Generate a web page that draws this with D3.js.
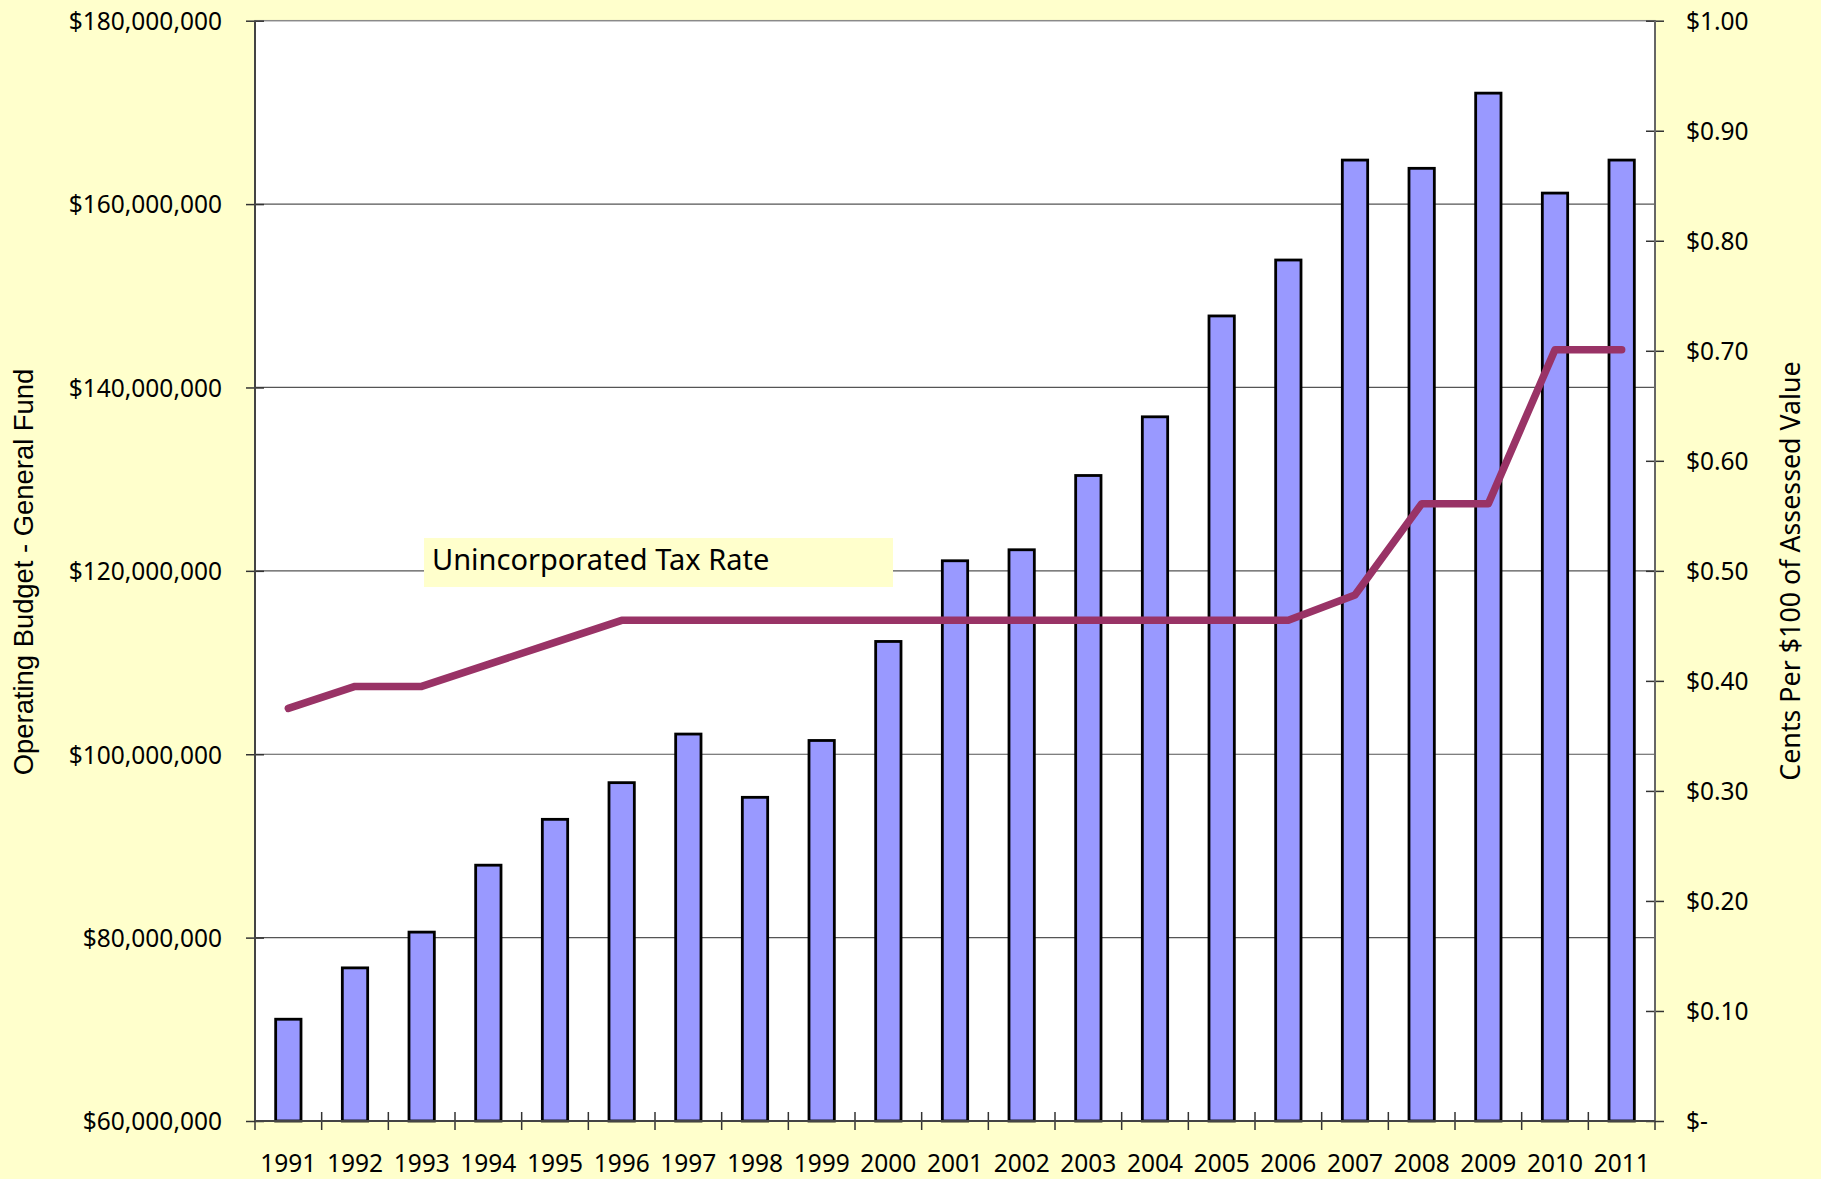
<!DOCTYPE html>
<html>
<head>
<meta charset="utf-8">
<script src="https://cdn.jsdelivr.net/npm/d3@7"></script>
<style>
  html, body { margin: 0; padding: 0; background: #FFFFCC; }
  svg { display: block; }
  text { font-family: "Noto Sans", sans-serif; fill: #000; }
</style>
</head>
<body>
<svg id="chart" width="1821" height="1179"></svg>
<script>
// ---- Data ----
const years = ["1991","1992","1993","1994","1995","1996","1997","1998","1999","2000","2001","2002","2003","2004","2005","2006","2007","2008","2009","2010","2011"];
const budget = [71.1e6, 76.7e6, 80.6e6, 87.9e6, 92.9e6, 96.9e6, 102.2e6, 95.3e6, 101.5e6, 112.3e6, 121.1e6, 122.3e6, 130.4e6, 136.8e6, 147.8e6, 153.9e6, 164.8e6, 163.9e6, 172.1e6, 161.2e6, 164.8e6];
const taxRate = [0.375, 0.395, 0.395, 0.415, 0.435, 0.455, 0.455, 0.455, 0.455, 0.455, 0.455, 0.455, 0.455, 0.455, 0.455, 0.455, 0.478, 0.561, 0.561, 0.701, 0.701];
const leftTicks = [60e6, 80e6, 100e6, 120e6, 140e6, 160e6, 180e6];
const rightTicks = [0, 0.1, 0.2, 0.3, 0.4, 0.5, 0.6, 0.7, 0.8, 0.9, 1.0];
const leftTitle = "Operating Budget - General Fund";
const rightTitle = "Cents Per $100 of Assessed Value";
const lineLabel = "Unincorporated Tax Rate";

// ---- Layout ----
const L = 255, R = 1655, T = 20.7, B = 1121;
const svg = d3.select("#chart");

const x = d3.scaleBand().domain(years).range([L, R]).paddingInner(0.62).paddingOuter(0.31);
const yL = d3.scaleLinear().domain([60e6, 180e6]).range([B, T]);
const yR = d3.scaleLinear().domain([0, 1]).range([B, T]);

// plot background
svg.append("rect").attr("x", L).attr("y", T).attr("width", R - L).attr("height", B - T)
  .attr("fill", "#fff").attr("stroke", "#8a8a8a").attr("stroke-width", 1.5);

// gridlines
svg.append("g").selectAll("line").data(leftTicks.filter(t => t > 60e6 && t < 180e6)).join("line")
  .attr("x1", L).attr("x2", R).attr("y1", d => yL(d)).attr("y2", d => yL(d))
  .attr("stroke", "#555").attr("stroke-width", 1.2);

// bars
svg.append("g").selectAll("rect").data(years).join("rect")
  .attr("x", d => x(d)).attr("width", x.bandwidth())
  .attr("y", (d, i) => yL(budget[i])).attr("height", (d, i) => B - yL(budget[i]))
  .attr("fill", "#9999FF").attr("stroke", "#000").attr("stroke-width", 2.8);

// label box
const lbl = svg.append("g");
lbl.append("rect").attr("x", 424).attr("y", 538).attr("width", 469).attr("height", 49).attr("fill", "#FFFFCC");
lbl.append("text").attr("x", 432).attr("y", 570).style("font-size", "29px").text(lineLabel);

// tax line
const line = d3.line().x((d, i) => x(years[i]) + x.bandwidth() / 2).y(d => yR(d));
svg.append("path").datum(taxRate).attr("d", line)
  .attr("fill", "none").attr("stroke", "#993366").attr("stroke-width", 7.5)
  .attr("stroke-linecap", "round").attr("stroke-linejoin", "round");

// axes
const leftAxis = d3.axisLeft(yL).tickValues(leftTicks).tickSize(0).tickFormat(d => "$" + d3.format(",")(d));
const gL = svg.append("g").attr("transform", `translate(${L},0)`).call(leftAxis);
gL.select(".domain").remove();
gL.selectAll(".tick text").attr("x", -33).attr("dy", "0.36em").style("font-size", "24.5px").style("font-family", "'Noto Sans', sans-serif");
gL.selectAll(".tick").append("line").attr("x1", -9).attr("x2", 9).attr("stroke", "#333").attr("stroke-width", 1.5);

const rightAxis = d3.axisRight(yR).tickValues(rightTicks).tickSize(0).tickFormat(d => d === 0 ? "$-" : "$" + d3.format(".2f")(d));
const gR = svg.append("g").attr("transform", `translate(${R},0)`).call(rightAxis);
gR.select(".domain").remove();
gR.selectAll(".tick text").attr("x", 31).attr("dy", "0.36em").style("font-size", "24.5px").style("font-family", "'Noto Sans', sans-serif");
gR.selectAll(".tick").append("line").attr("x1", -9).attr("x2", 9).attr("stroke", "#333").attr("stroke-width", 1.5);

// bottom axis labels
const bottomAxis = d3.axisBottom(x).tickSize(0);
const gB = svg.append("g").attr("transform", `translate(0,${B})`).call(bottomAxis);
gB.select(".domain").remove();
gB.selectAll(".tick text").attr("y", 51).attr("dy", 0).style("font-size", "24.5px").style("font-family", "'Noto Sans', sans-serif");
// bottom category boundary ticks
const bounds = d3.range(years.length + 1).map(i => L + i * x.step());
svg.append("g").selectAll("line").data(bounds).join("line")
  .attr("x1", d => d).attr("x2", d => d).attr("y1", B - 9).attr("y2", B + 9)
  .attr("stroke", "#333").attr("stroke-width", 1.5);

// axis lines
svg.append("line").attr("x1", L).attr("x2", L).attr("y1", T).attr("y2", B).attr("stroke", "#444").attr("stroke-width", 2);
svg.append("line").attr("x1", R).attr("x2", R).attr("y1", T).attr("y2", B).attr("stroke", "#666").attr("stroke-width", 2);
svg.append("line").attr("x1", L).attr("x2", R).attr("y1", B).attr("y2", B).attr("stroke", "#444").attr("stroke-width", 2);

// axis titles
svg.append("text").attr("transform", "translate(33,572) rotate(-90)").attr("text-anchor", "middle")
  .style("font-family", "'Liberation Sans', Arial, sans-serif").style("font-size", "27.4px").text(leftTitle);
svg.append("text").attr("transform", "translate(1800,571) rotate(-90)").attr("text-anchor", "middle")
  .style("font-size", "26.8px").text(rightTitle);
</script>
</body>
</html>
